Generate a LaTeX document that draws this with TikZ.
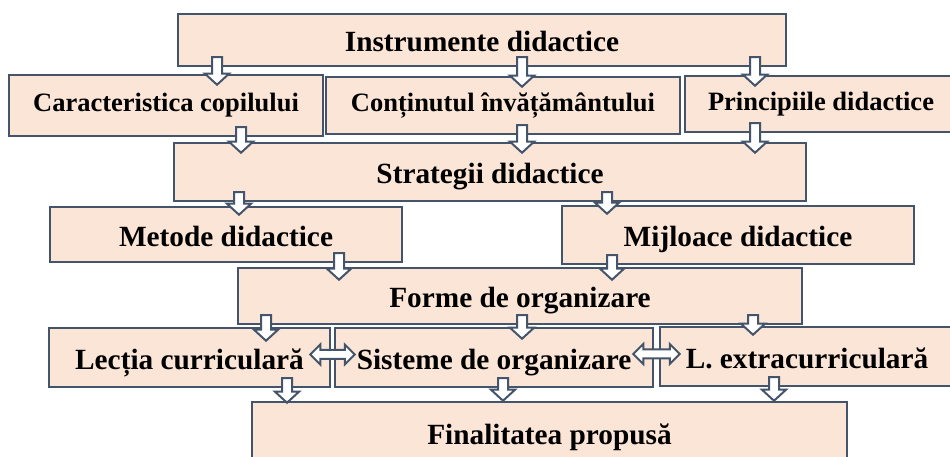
\documentclass[tikz,border=0pt]{standalone}
\usepackage{fontspec}
\setmainfont{Liberation Serif}
\usetikzlibrary{calc}
\definecolor{boxfill}{RGB}{251,229,214}
\definecolor{boxline}{RGB}{68,84,106}
\tikzset{
  stage/.style={draw=boxline, line width=2.5pt, fill=boxfill, inner sep=0pt,
    text height=25pt, text depth=1pt,
    font=\bfseries\fontsize{29.3}{33}\selectfont},
  substage/.style={stage, text height=18pt, text depth=5.5pt,
    font=\bfseries\fontsize{26.5}{30}\selectfont},
  flow/.style={draw=boxline, line width=2pt, fill=white, line join=miter}
}
% hollow arrow down from #2 into #3 at x=#4, tip #1 below the top of #3
\newcommand{\flowdown}[4][11]{%
  \draw[flow] let \p1=(#2.south), \p2=(#3.north) in
    ({#4pt-5pt},{\y1+10pt}) -- ({#4pt+5pt},{\y1+10pt})
    -- ({#4pt+5pt},{\y2-#1pt+11pt}) -- ({#4pt+12pt},{\y2-#1pt+11pt})
    -- (#4pt,{\y2-#1pt}) -- ({#4pt-12pt},{\y2-#1pt+11pt})
    -- ({#4pt-5pt},{\y2-#1pt+11pt}) -- cycle;}
% hollow two-headed arrow between #1 and #2, raised by #3
\newcommand{\flowboth}[3]{%
  \draw[flow] let \p1=(#1.east), \p2=(#2.west) in
    ({\x1-21pt},{\y1+#3pt}) -- ({\x1-11pt},{\y1+#3pt+10pt})
    -- ({\x1-11pt},{\y1+#3pt+4.5pt}) -- ({\x2+11pt},{\y1+#3pt+4.5pt})
    -- ({\x2+11pt},{\y1+#3pt+10pt}) -- ({\x2+21pt},{\y1+#3pt})
    -- ({\x2+11pt},{\y1+#3pt-10pt}) -- ({\x2+11pt},{\y1+#3pt-4.5pt})
    -- ({\x1-11pt},{\y1+#3pt-4.5pt}) -- ({\x1-11pt},{\y1+#3pt-10pt}) -- cycle;}

\begin{document}
\begin{tikzpicture}[x=1pt, y=1pt]
    \clip (0,0) rectangle (950,457);

    % boxes
    \node[stage, minimum width=608pt, minimum height=52pt] (instr) at (482,417) {Instrumente didactice};
    \node[substage, minimum width=314pt, minimum height=61pt] (copil) at (166,351.5) {Caracteristica copilului};
    \node[substage, minimum width=354pt, minimum height=57pt] (continut) at (503,351.5) {Conținutul învățământului};
    \node[substage, minimum width=272pt, minimum height=56pt] (principii) at (821,353) {Principiile didactice};
    \node[stage, minimum width=632pt, minimum height=58pt] (strategii) at (490,285) {Strategii didactice};
    \node[stage, minimum width=352pt, minimum height=55pt] (metode) at (226,222.5) {Metode didactice};
    \node[stage, minimum width=352pt, minimum height=58pt] (mijloace) at (738,222) {Mijloace didactice};
    \node[stage, minimum width=564pt, minimum height=56pt] (forme) at (520,161) {Forme de organizare};
    \node[stage, minimum width=281pt, minimum height=59pt] (lectia) at (189.5,99.5) {Lecția curriculară};
    \node[stage, minimum width=318pt, minimum height=59pt] (sisteme) at (494,99.5) {Sisteme de organizare};
    \node[stage, minimum width=294pt, minimum height=59pt] (extra) at (807,100.5) {L. extracurriculară};
    \node[stage, minimum width=595pt, minimum height=62pt] (final) at (549.5,24) {Finalitatea propusă};

    % arrows
    \flowdown{instr}{copil}{217}
    \flowdown{instr}{continut}{522}
    \flowdown{instr}{principii}{755}
    \flowdown{copil}{strategii}{241}
    \flowdown{continut}{strategii}{522}
    \flowdown{principii}{strategii}{755}
    \flowdown[9]{strategii}{metode}{239}
    \flowdown[9]{strategii}{mijloace}{607}
    \flowdown[13]{metode}{forme}{339}
    \flowdown[13]{mijloace}{forme}{612}
    \flowdown[14]{forme}{lectia}{266}
    \flowdown[12]{forme}{sisteme}{522}
    \flowdown[9]{forme}{extra}{753}
    \flowdown[2]{lectia}{final}{287}
    \flowdown[0]{sisteme}{final}{503}
    \flowdown[0]{extra}{final}{774}
    \flowboth{lectia}{sisteme}{3}
    \flowboth{sisteme}{extra}{3.5}
\end{tikzpicture}
\end{document}
